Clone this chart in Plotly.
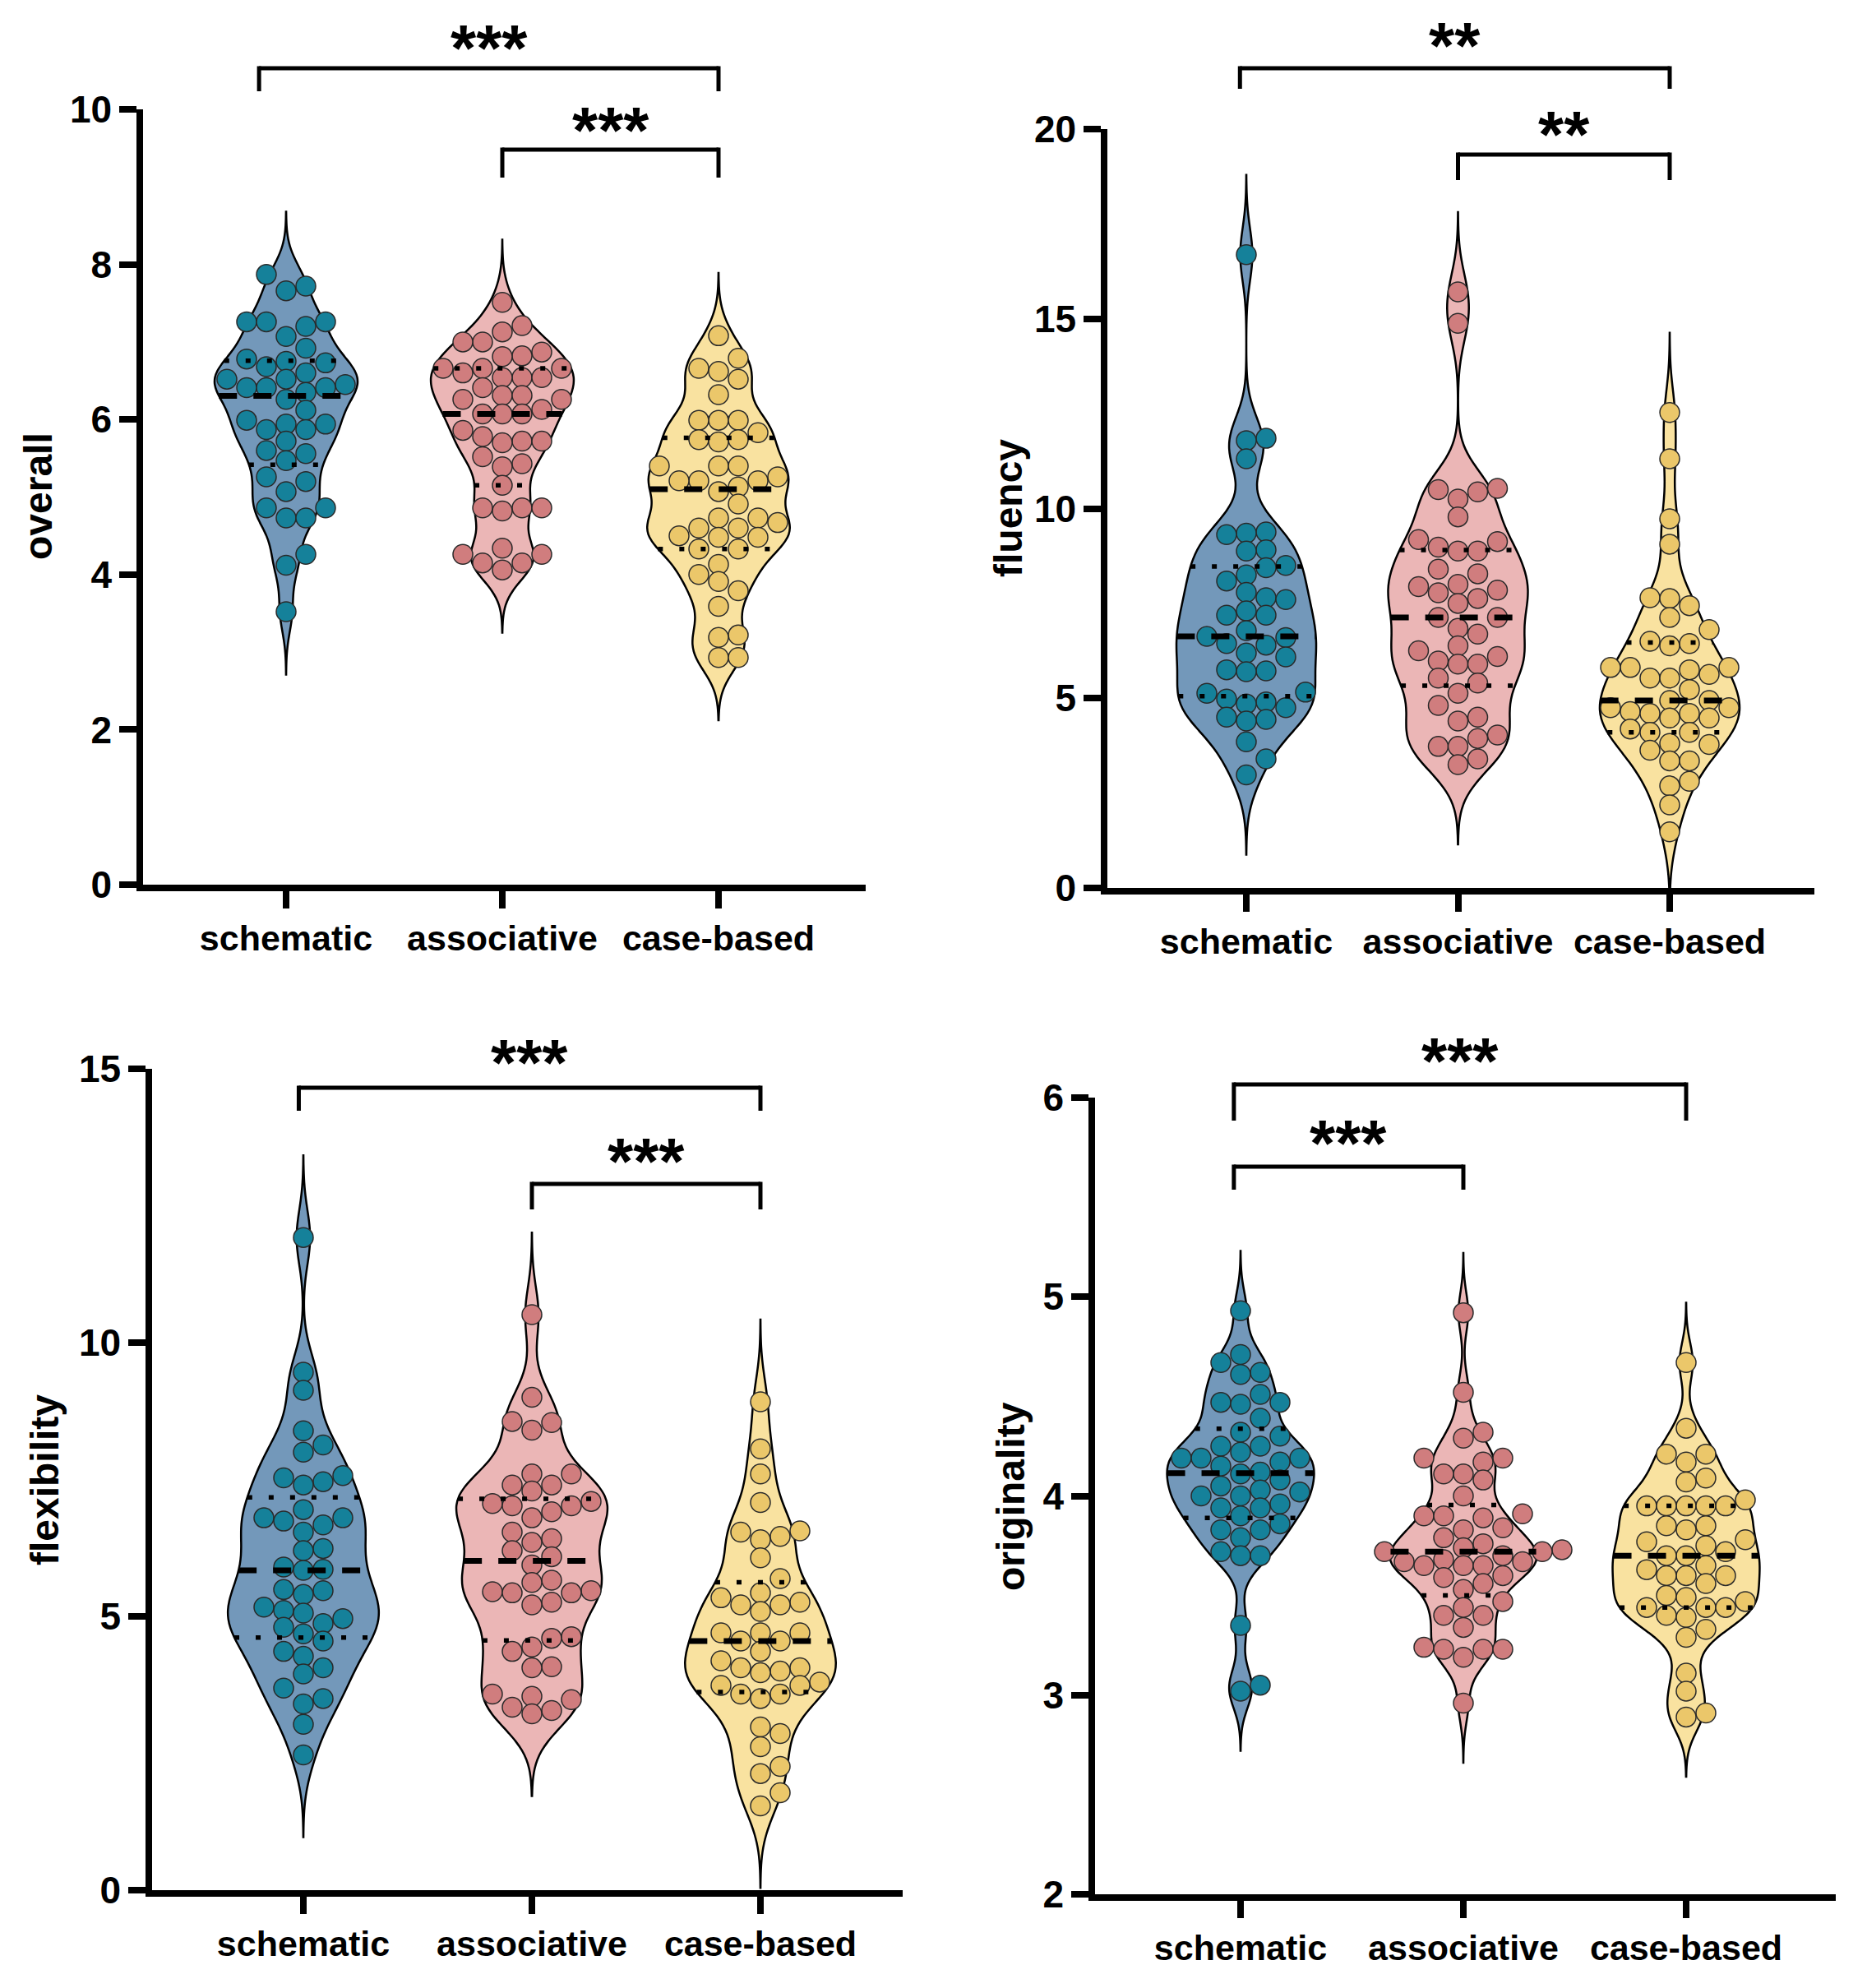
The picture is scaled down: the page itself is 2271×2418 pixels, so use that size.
import numpy as np
import plotly.graph_objects as go

# ---------------- data ----------------
GROUPS = ["schematic", "associative", "case-based"]
METRICS = ["overall", "fluency", "flexibility", "originality"]

overall_schematic = [7.87, 7.72, 7.66, 7.26, 7.26, 7.26, 7.20, 7.07, 6.92, 6.78, 6.75, 6.73, 6.68, 6.60,
                     6.52, 6.52, 6.45, 6.41, 6.41, 6.41, 6.35, 6.26, 6.12, 5.99, 5.94, 5.94, 5.87, 5.87,
                     5.72, 5.60, 5.56, 5.47, 5.26, 5.20, 5.07, 4.86, 4.86, 4.73, 4.73, 4.26, 4.12, 3.52]
overall_associative = [7.51, 7.21, 7.13, 7.00, 7.00, 6.87, 6.82, 6.81, 6.66, 6.66, 6.66, 6.60, 6.54, 6.54,
                       6.54, 6.41, 6.31, 6.31, 6.26, 6.26, 6.13, 6.07, 6.07, 6.07, 5.86, 5.78, 5.72, 5.72,
                       5.70, 5.52, 5.43, 5.39, 5.15, 4.86, 4.86, 4.86, 4.82, 4.34, 4.26, 4.26, 4.15, 4.15, 4.06]
overall_case_based = [7.08, 6.79, 6.66, 6.62, 6.52, 6.32, 5.99, 5.99, 5.99, 5.83, 5.74, 5.74, 5.71, 5.40,
                      5.40, 5.40, 5.26, 5.21, 5.21, 5.21, 5.13, 5.07, 4.91, 4.73, 4.73, 4.67, 4.60, 4.60,
                      4.50, 4.48, 4.48, 4.33, 4.33, 4.13, 4.00, 3.91, 3.79, 3.59, 3.22, 3.19, 2.93, 2.93]

fluency_schematic = [16.69, 11.85, 11.79, 11.31, 9.38, 9.35, 9.31, 8.91, 8.88, 8.50, 8.44, 8.25, 8.09, 7.79,
                     7.65, 7.60, 7.30, 7.19, 7.19, 6.78, 6.63, 6.60, 6.44, 6.40, 6.19, 6.09, 5.75, 5.72,
                     5.70, 5.16, 5.13, 4.98, 4.90, 4.85, 4.75, 4.50, 4.44, 4.40, 3.85, 3.40, 2.98]
fluency_associative = [15.71, 14.88, 10.53, 10.50, 10.44, 10.25, 9.78, 9.18, 9.13, 8.98, 8.88, 8.88, 8.40,
                       8.28, 8.00, 7.94, 7.85, 7.78, 7.63, 7.50, 7.13, 7.13, 6.84, 6.69, 6.38, 6.25, 6.10,
                       5.98, 5.90, 5.90, 5.53, 5.40, 5.13, 4.81, 4.50, 4.40, 4.03, 3.94, 3.73, 3.73, 3.40, 3.25]
fluency_case_based = [12.53, 11.31, 9.73, 9.06, 7.65, 7.63, 7.44, 7.13, 6.81, 6.50, 6.44, 6.38, 5.81, 5.81,
                      5.81, 5.75, 5.63, 5.53, 5.53, 5.23, 4.94, 4.94, 4.75, 4.75, 4.65, 4.60, 4.60, 4.48,
                      4.48, 4.19, 4.10, 4.10, 3.81, 3.78, 3.63, 3.35, 3.35, 2.81, 2.69, 2.19, 1.48]

flexibility_schematic = [11.92, 9.46, 9.13, 8.39, 8.13, 8.00, 7.57, 7.53, 7.46, 7.40, 6.95, 6.80, 6.80, 6.74,
                         6.67, 6.54, 6.24, 6.20, 5.90, 5.86, 5.84, 5.49, 5.47, 5.40, 5.17, 5.11, 5.06, 4.96,
                         4.87, 4.80, 4.68, 4.55, 4.36, 4.27, 4.06, 3.95, 3.69, 3.50, 3.40, 3.03, 2.47]
flexibility_associative = [10.51, 9.00, 8.56, 8.54, 8.40, 7.60, 7.60, 7.40, 7.40, 7.29, 7.10, 7.06, 7.02,
                           7.02, 6.91, 6.80, 6.54, 6.42, 6.35, 6.20, 6.09, 5.94, 5.66, 5.62, 5.47, 5.45,
                           5.43, 5.43, 5.26, 5.21, 4.63, 4.60, 4.44, 4.36, 4.08, 4.06, 3.58, 3.54, 3.48,
                           3.34, 3.28, 3.22]
flexibility_case_based = [8.92, 8.06, 7.60, 7.08, 6.56, 6.54, 6.46, 6.40, 6.07, 5.69, 5.43, 5.34, 5.26, 5.21,
                          5.21, 5.09, 4.70, 4.70, 4.70, 4.55, 4.55, 4.36, 4.19, 4.06, 4.06, 4.00, 3.97, 3.80,
                          3.74, 3.74, 3.58, 3.58, 3.50, 2.98, 2.86, 2.62, 2.26, 2.13, 1.78, 1.54]

originality_schematic = [4.93, 4.71, 4.67, 4.62, 4.61, 4.51, 4.47, 4.47, 4.46, 4.39, 4.32, 4.30, 4.25, 4.25,
                         4.22, 4.19, 4.19, 4.19, 4.17, 4.15, 4.12, 4.11, 4.08, 4.05, 4.03, 4.02, 4.00, 4.00,
                         3.96, 3.94, 3.94, 3.90, 3.86, 3.83, 3.83, 3.79, 3.72, 3.70, 3.70, 3.35, 3.05, 3.02]
originality_associative = [4.92, 4.52, 4.32, 4.29, 4.19, 4.17, 4.19, 4.11, 4.11, 4.08, 4.00, 3.91, 3.90,
                           3.89, 3.90, 3.84, 3.83, 3.79, 3.76, 3.74, 3.73, 3.72, 3.72, 3.70, 3.67, 3.67,
                           3.65, 3.65, 3.65, 3.68, 3.60, 3.59, 3.56, 3.53, 3.47, 3.44, 3.40, 3.40, 3.34,
                           3.24, 3.23, 3.23, 3.23, 3.19, 2.96]
originality_case_based = [4.67, 4.34, 4.21, 4.21, 4.17, 4.09, 4.07, 3.98, 3.95, 3.95, 3.95, 3.95, 3.95, 3.85,
                          3.85, 3.83, 3.78, 3.77, 3.75, 3.72, 3.70, 3.70, 3.65, 3.63, 3.60, 3.60, 3.60, 3.56,
                          3.50, 3.49, 3.47, 3.44, 3.44, 3.44, 3.40, 3.39, 3.33, 3.29, 3.11, 3.02, 2.91, 2.89]

DATA = {
    "overall": [overall_schematic, overall_associative, overall_case_based],
    "fluency": [fluency_schematic, fluency_associative, fluency_case_based],
    "flexibility": [flexibility_schematic, flexibility_associative, flexibility_case_based],
    "originality": [originality_schematic, originality_associative, originality_case_based],
}

Y_TICKS = {
    "overall": [0, 2, 4, 6, 8, 10],
    "fluency": [0, 5, 10, 15, 20],
    "flexibility": [0, 5, 10, 15],
    "originality": [2, 3, 4, 5, 6],
}

# (group a, group b, label)
SIGNIFICANCE = {
    "overall": [(0, 2, "***"), (1, 2, "***")],
    "fluency": [(0, 2, "**"), (1, 2, "**")],
    "flexibility": [(0, 2, "***"), (1, 2, "***")],
    "originality": [(0, 2, "***"), (0, 1, "***")],
}

# ---------------- layout geometry (pixels) & styles ----------------
W, H = 2271, 2418
GEOM = {
    "overall": dict(x0=174, x1=1053, c0=348, c2=874, ytop=133, ybot=1076, bw=0.27,
                    title=(46, 604), brk=[(83, 111, 46), (182, 216, 146)], shift0=-0.125),
    "fluency": dict(x0=1347, x1=2207, c0=1516, c2=2031, ytop=157, ybot=1080, bw=0.7,
                    title=(1226, 618), brk=[(83, 108, 43), (188, 219, 151)], shift0=-0.03),
    "flexibility": dict(x0=185, x1=1098, c0=369, c2=925, ytop=1300, ybot=2299, bw=0.5,
                        title=(54, 1800), brk=[(1323, 1351, 1280), (1440, 1471, 1400)], shift0=-0.02),
    "originality": dict(x0=1332, x1=2233, c0=1509, c2=2051, ytop=1335, ybot=2304, bw=0.1,
                        title=(1229, 1820), brk=[(1319, 1363, 1278), (1419, 1447, 1378)], shift0=-0.03),
}
VIOLIN_FILL = ["#7398BA", "#EBB6B6", "#F9E2A0"]
POINT_FILL = ["#15819A", "#D07D7E", "#EBC76A"]
VIOLIN_WIDTH = 0.66
TAIL = 3.0          # violin tails extend TAIL bandwidths beyond the data
MARKER_D = 24
FONT = "Liberation Sans, Arial, sans-serif"
STAR_SIZE = 80
AXIS_W = 7.5


def density(vals, bw, t):
    t = np.atleast_1d(np.asarray(t, float))
    z = (t[:, None] - np.asarray(vals)[None, :]) / bw
    return np.exp(-0.5 * z ** 2).sum(1) / (len(vals) * bw * np.sqrt(2 * np.pi))


def kde_grid(vals, bw, span):
    lo, hi = span
    n = int(np.ceil((hi - lo) / (bw / 3)))
    t = np.linspace(lo, hi, n + 1)
    return t, density(vals, bw, t)


def swarm_columns(vals, px_per_unit, dmin):
    order = np.argsort(vals)
    cand = [0]
    for k in range(1, 12):
        cand += [k, -k]
    cols = {}
    out = np.zeros(len(vals))
    for idx in order:
        y = vals[idx] * px_per_unit
        for k in cand:
            if all(abs(y - yy) >= dmin for yy in cols.get(k, [])):
                cols.setdefault(k, []).append(y)
                out[idx] = k
                break
    return out


fig = go.Figure()
layout = dict(
    template="none",
    width=W, height=H, margin=dict(l=0, r=0, t=0, b=0, pad=0, autoexpand=False),
    paper_bgcolor="white", plot_bgcolor="white",
    showlegend=False, violinmode="overlay", hovermode=False,
    font=dict(family=FONT, color="black"),
)
shapes, annotations = [], []

for k, metric in enumerate(METRICS):
    g = GEOM[metric]
    sfx = "" if k == 0 else str(k + 1)
    xa, ya = "x" + sfx, "y" + sfx
    spacing = (g["c2"] - g["c0"]) / 2.0
    ticks = Y_TICKS[metric]
    ymin, ymax = ticks[0], ticks[-1]
    ypx = (g["ybot"] - g["ytop"]) / (ymax - ymin)

    layout["xaxis" + sfx] = dict(
        domain=[g["x0"] / W, g["x1"] / W],
        range=[(g["x0"] - g["c0"]) / spacing, (g["x1"] - g["c0"]) / spacing],
        anchor=ya, tickvals=[0, 1, 2], ticktext=GROUPS, automargin=False,
        ticks="outside", ticklen=21, tickwidth=AXIS_W, tickcolor="black",
        showline=True, linewidth=AXIS_W, linecolor="black",
        showgrid=False, zeroline=False, fixedrange=True,
        tickfont=dict(size=43, family=FONT, color="black", weight="bold"),
    )
    layout["yaxis" + sfx] = dict(
        domain=[1 - g["ybot"] / H, 1 - g["ytop"] / H],
        range=[ymin, ymax], anchor=xa, tickvals=ticks, automargin=False,
        ticks="outside", ticklen=21, tickwidth=AXIS_W, tickcolor="black",
        showline=True, linewidth=AXIS_W, linecolor="black",
        showgrid=False, zeroline=False, fixedrange=True,
        tickfont=dict(size=46, family=FONT, color="black", weight="bold"),
    )

    line_traces = []
    for i, vals in enumerate(DATA[metric]):
        vals = np.asarray(vals, float)
        bw = g["bw"]
        span = [vals.min() - TAIL * bw, vals.max() + TAIL * bw]
        fig.add_trace(go.Violin(
            y=vals, x0=i, width=VIOLIN_WIDTH, bandwidth=bw, spanmode="manual", span=span,
            scalemode="width", points=False, fillcolor=VIOLIN_FILL[i],
            line=dict(color="black", width=2.5), opacity=1,
            box_visible=False, meanline_visible=False, hoverinfo="skip",
            xaxis=xa, yaxis=ya, name=GROUPS[i],
        ))
        cols = swarm_columns(vals, ypx, MARKER_D * 0.85)
        fig.add_trace(go.Scatter(
            x=i + cols * MARKER_D / spacing, y=vals, mode="markers",
            marker=dict(size=MARKER_D, color=POINT_FILL[i], line=dict(color="#2a2a2a", width=1.5)),
            xaxis=xa, yaxis=ya, hoverinfo="skip", cliponaxis=False,
        ))
        # median & quartile lines spanning the violin
        t, d = kde_grid(vals, bw, span)
        maxk = d.max()
        q1, med, q3 = np.percentile(vals, [25, 50, 75], method="weibull")
        for q, style in [(q1, "q"), (q3, "q"), (med, "m")]:
            hw = VIOLIN_WIDTH / 2 * density(vals, bw, q)[0] / maxk
            if style == "m":
                ln = dict(color="black", width=7, dash="22px,20px")
            else:
                ln = dict(color="black", width=5.5, dash="6px,20px")
            line_traces.append(go.Scatter(
                x=[i - hw, i + hw], y=[q, q], mode="lines", line=ln,
                xaxis=xa, yaxis=ya, hoverinfo="skip",
            ))
    for tr in line_traces:
        fig.add_trace(tr)

    # significance brackets
    def yd(py, g=g):
        return (g["ybot"] - py) / (g["ybot"] - g["ytop"])

    for (a, b, lab), (ptop, pbot, pstar) in zip(SIGNIFICANCE[metric], g["brk"]):
        xl = a + (g["shift0"] if a == 0 else 0)
        xr = b
        lw = 5
        common = dict(type="line", xref=xa, yref=ya + " domain",
                      line=dict(color="black", width=lw), layer="above")
        shapes.append(dict(x0=xl, x1=xr, y0=yd(ptop), y1=yd(ptop), **common))
        shapes.append(dict(x0=xl, x1=xl, y0=yd(ptop - lw / 2), y1=yd(pbot), **common))
        shapes.append(dict(x0=xr, x1=xr, y0=yd(ptop - lw / 2), y1=yd(pbot), **common))
        annotations.append(dict(
            x=(xl + xr) / 2, y=yd(pstar + 0.21 * STAR_SIZE - 4), xref=xa, yref=ya + " domain",
            text=lab, showarrow=False, xanchor="center", yanchor="middle",
            font=dict(size=STAR_SIZE, family=FONT, color="black", weight="bold"),
        ))

    # y-axis title
    tx, ty = g["title"]
    annotations.append(dict(
        x=tx / W, y=1 - ty / H, xref="paper", yref="paper", text=metric,
        textangle=-90, showarrow=False, xanchor="center", yanchor="middle",
        font=dict(size=48, family=FONT, color="black", weight="bold"),
    ))

layout["shapes"] = shapes
layout["annotations"] = annotations
fig.update_layout(**layout)
fig.write_html("out.html")
